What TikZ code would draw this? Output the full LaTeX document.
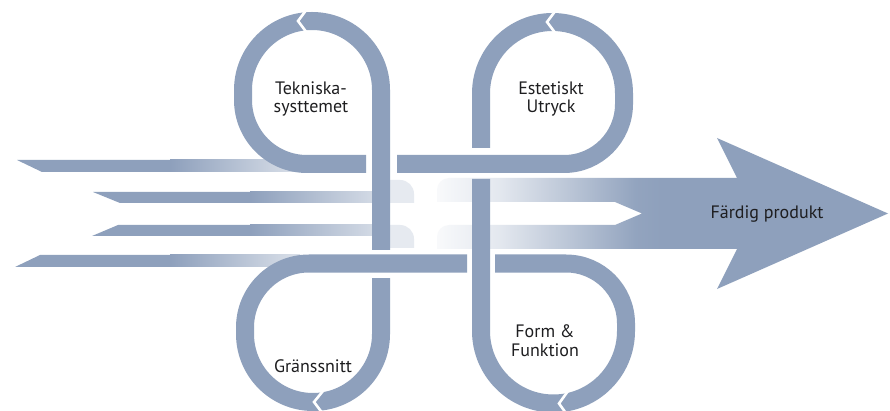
\documentclass[tikz,border=0pt]{standalone}
\usepackage{fontspec}
\setmainfont{PT Sans}
\definecolor{bandc}{RGB}{142,160,188}
\definecolor{txtc}{RGB}{30,30,32}
\pgfdeclarehorizontalshading{arrowsh}{100bp}{color(0bp)=(bandc!6); color(25bp)=(bandc!6); color(32bp)=(bandc!25); color(40bp)=(bandc!62); color(47bp)=(bandc!96); color(50bp)=(bandc); color(100bp)=(bandc)}
\tikzset{
  band/.style={draw=bandc, line width=18pt},
  notch/.style={draw=white, line width=2.6pt},
  fletch/.style={fill=bandc},
  faint/.style={fill=bandc!22},
  lbl/.style={text=txtc, align=center, inner sep=0pt, font=\fontsize{18}{18.7}\selectfont}
}
\begin{document}
\begin{tikzpicture}[x=1pt,y=-1pt]
\fill[white] (0,0) rectangle (890,411);
\useasboundingbox (0,0) rectangle (890,411);

% ---- fletching lines (left) ----
\fill[fletch] (17,160) -- (171,160) -- (171,172) -- (42,172) -- cycle;
\shade[left color=bandc, right color=bandc!32] (170,160) rectangle (300,172);
\fill[fletch] (93,192) -- (251,192) -- (251,203) -- (120,203) -- cycle;
\shade[left color=bandc, right color=bandc!40] (250,192) rectangle (372,203);
\fill[fletch] (118,225) -- (251,225) -- (251,236) -- (92,236) -- cycle;
\shade[left color=bandc, right color=bandc!40] (250,225) rectangle (372,236);
\fill[fletch] (40,255) -- (171,255) -- (171,267) -- (15,267) -- cycle;
\shade[left color=bandc, right color=bandc!32] (170,255) rectangle (300,267);

% faint pieces in the centre
\fill[faint] (390,203) -- (390,180) -- (400,180) arc[start angle=-90,end angle=0,radius=14] -- (414,203) -- cycle;
\fill[faint] (390,248) -- (390,225) -- (400,225) arc[start angle=-90,end angle=0,radius=14] -- (414,248) -- cycle;

% ---- big arrow ----
\path[shading=arrowsh] (437,202) -- (437,190) arc[start angle=180,end angle=270,radius=12]
  -- (737,178) -- (717,138) -- (888,213.5) -- (717,289) -- (737,249) -- (437,249)
  -- (437,237) arc[start angle=180,end angle=270,radius=12]
  -- (615,225) -- (642,213.5) -- (615,202) -- cycle;

% ---- knot of four loops ----
% top-left loop, V1 upper part, H1 left part
\draw[band] (381,250) -- (381,90) arc[start angle=0,end angle=-180,radius=69]
  -- (243,100) arc[start angle=180,end angle=90,radius=64] -- (366,164);
% H1 right part, top-right loop, V2 upper part
\draw[band] (397,164) -- (564,164) arc[start angle=90,end angle=0,radius=60]
  -- (624,93.5) arc[start angle=0,end angle=-180,radius=71.5] -- (481,148);
% V2 lower part, bottom-right loop, H2 right part
\draw[band] (481,179) -- (481,331) arc[start angle=180,end angle=0,radius=72.5]
  -- (626,323.5) arc[start angle=0,end angle=-90,radius=60] -- (495,263.5);
% H2 left part, bottom-left loop, V1 lower part
\draw[band] (467,263.5) -- (309,263.5) arc[start angle=-90,end angle=-180,radius=64]
  -- (245,334) arc[start angle=180,end angle=0,radius=68] -- (381,278);

% direction notches
\draw[notch] (307,9) -- (298,21) -- (307,33);
\draw[notch] (556,10) -- (547,22) -- (556,34);
\draw[notch] (323,391) -- (314,402) -- (323,414);
\draw[notch] (568,391) -- (559,403.5) -- (568,416);

% ---- labels ----
\node[lbl] (tek) at (311,99) {Tekniska-\\systtemet};
\node[lbl] (est) at (551,99) {Estetiskt\\Utryck};
\node[lbl] (gra) at (313,366) {Gränssnitt};
\node[lbl] (frm) at (545,341) {Form \&\\Funktion};
\node[lbl] (far) at (767,214) {Färdig produkt};
\end{tikzpicture}
\end{document}
